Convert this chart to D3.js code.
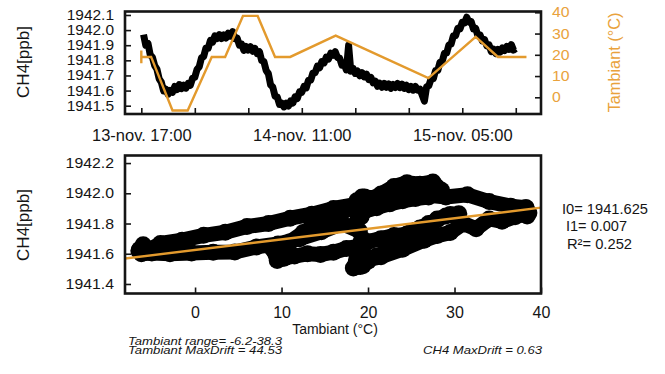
<!DOCTYPE html>
<html><head><meta charset="utf-8">
<script src="https://cdn.jsdelivr.net/npm/d3@7"></script>
<style>
html,body{margin:0;padding:0;background:#fff;}
svg{display:block;font-family:"Liberation Sans",Arial,Helvetica,sans-serif;}
</style></head><body>
<svg id="chart" width="665" height="374"></svg>
<script>
// ---------------- DATA ----------------
// hours after 13-nov 17:00
const ch4Hours = [0.25,0.5,0.75,1,1.25,1.5,1.75,2,2.25,2.5,2.75,3,3.25,3.5,3.75,4,4.25,4.5,4.75,5,5.25,5.5,5.75,6,6.25,6.5,6.75,7,7.25,7.5,7.75,8,8.25,8.5,8.75,9,9.25,9.5,9.75,10,10.25,10.5,10.75,11,11.25,11.5,11.75,12,12.25,12.5,12.75,13,13.25,13.5,13.75,14,14.25,14.5,14.75,15,15.25,15.5,15.75,16,16.25,16.5,16.75,17,17.25,17.5,17.75,18,18.25,18.5,18.75,19,19.25,19.5,19.75,20,20.25,20.5,20.75,21,21.25,21.5,21.75,22,22.25,22.5,22.75,23,23.25,23.5,23.75,24,24.25,24.5,24.75,25,25.25,25.5,25.75,26,26.25,26.5,26.75,27,27.25,27.5,27.75,28,28.25,28.5,28.75,29,29.25,29.5,29.75,30,30.25,30.5,30.75,31,31.25,31.5,31.75,32,32.25,32.5,32.75,33,33.25,33.5,33.75,34,34.25,34.5,34.75,35,35.25,35.5,35.75,36,36.25,36.5,36.75,37,37.25,37.5,37.75,38,38.25,38.5,38.75,39,39.25,39.5,39.75,40,40.25,40.5,40.75,41,41.25,41.5,41.75,42];
const ch4Values = [
1941.970,1941.900,1941.912,1941.836,1941.820,1941.765,1941.742,1941.678,1941.655,1941.598,
1941.609,1941.575,1941.601,1941.588,1941.627,1941.606,1941.640,1941.613,1941.635,1941.616,
1941.647,1941.635,1941.682,1941.688,1941.740,1941.758,1941.817,1941.826,1941.882,1941.880,
1941.932,1941.921,1941.962,1941.944,1941.970,1941.944,1941.968,1941.948,1941.979,1941.960,
1941.990,1941.943,1941.947,1941.901,1941.907,1941.866,1941.892,1941.868,1941.891,1941.860,
1941.878,1941.844,1941.857,1941.798,1941.792,1941.733,1941.712,1941.638,1941.622,1941.563,
1941.557,1941.508,1941.517,1941.492,1941.516,1941.498,1941.532,1941.518,1941.559,1941.548,
1941.592,1941.588,1941.627,1941.618,1941.669,1941.668,1941.717,1941.718,1941.762,1941.751,
1941.792,1941.783,1941.822,1941.808,1941.847,1941.834,1941.857,1941.818,1941.814,1941.768,
1941.777,1941.736,1941.900,1941.728,1941.747,1941.713,1941.729,1941.698,1941.719,1941.690,
1941.709,1941.673,1941.687,1941.651,1941.662,1941.628,1941.648,1941.622,1941.648,1941.622,
1941.644,1941.615,1941.640,1941.620,1941.647,1941.619,1941.642,1941.614,1941.635,1941.606,
1941.628,1941.603,1941.627,1941.603,1941.610,1941.570,1941.530,1941.625,1941.633,1941.677,
1941.678,1941.732,1941.733,1941.787,1941.793,1941.847,1941.848,1941.902,1941.908,1941.962,
1941.963,1942.012,1942.008,1942.052,1942.048,1942.085,1942.053,1942.057,1942.008,1942.012,
1941.963,1941.967,1941.928,1941.937,1941.896,1941.902,1941.858,1941.874,1941.845,1941.872,
1941.854,1941.882,1941.864,1941.892,1941.873,1941.904,1941.868,1941.878];

const tempHours  = [0, 0, 0, 1.1, 3.5, 5.2, 7.9, 9.4, 11.4, 13.05, 15.0, 16.7, 21.8, 32.2, 37.5, 40.0, 43.2];
const tempValues = [22, 16, 19, 19, -6.2, -6.2, 19, 19, 38.3, 38.3, 19, 19, 29, 9, 28.5, 19, 19];

const scatterT = [
 19.3,18.6,19.5,18.8,19.2,18.4,19.0,
 17.0,14.6,12.1,9.6,7.1,4.6,2.1,-0.4,-2.9,-5.0,
 -6.2,-5.9,-6.5,-6.0,-6.4,-5.8,
 -4.0,-1.5,1.0,3.5,6.0,8.5,11.0,13.5,16.0,18.5,
 19.3,18.7,19.6,
 21.5,24.0,26.5,29.0,31.5,34.0,36.5,38.3,
 38.2,38.6,38.0,38.4,38.1,
 37.0,35.5,34.0,32.5,31.0,29.5,28.0,26.5,24.0,21.5,19.3,
 18.6,19.4,18.3,19.1,18.7,19.5,18.9,19.3,18.5,
 20.0,21.0,22.0,23.0,24.0,25.0,26.0,27.0,28.0,29.0,30.5,29.5,
 28.0,27.0,26.2,25.5,24.5,23.0,21.5,20.0,19.0,17.5,16.0,14.5,13.0,11.5,10.3,9.5,9.0,
 9.5,11.0,12.5,14.0,15.5,17.0,18.5,20.0,21.5,23.0,24.5,26.0,27.5,28.5,
 27.0,25.5,24.0,22.5,21.0,19.5,
 18.8,19.4,18.6,19.2,18.9];
const scatterCH4 = [
 1941.975,1941.925,1941.905,1941.860,1941.845,1941.790,1941.750,
 1941.800,1941.745,1941.700,1941.665,1941.645,1941.612,1941.610,1941.605,1941.600,1941.605,
 1941.600,1941.650,1941.620,1941.660,1941.630,1941.610,
 1941.668,1941.690,1941.722,1941.742,1941.780,1941.800,1941.835,1941.862,1941.900,1941.925,
 1941.968,1941.950,1941.975,
 1941.965,1941.985,1941.990,1941.975,1941.990,1941.945,1941.915,1941.905,
 1941.905,1941.870,1941.885,1941.850,1941.862,
 1941.845,1941.815,1941.830,1941.765,1941.800,1941.740,1941.720,1941.690,1941.630,1941.580,1941.555,
 1941.540,1941.520,1941.505,1941.515,1941.560,1941.600,1941.650,1941.700,1941.620,
 1941.550,1941.585,1941.610,1941.660,1941.700,1941.745,1941.770,1941.800,1941.825,1941.850,1941.865,1941.860,
 1941.830,1941.790,1941.770,1941.755,1941.730,1941.720,1941.700,1941.680,1941.650,1941.635,1941.610,1941.595,1941.600,1941.585,1941.570,1941.555,1941.630,
 1941.640,1941.680,1941.740,1941.790,1941.835,1941.875,1941.915,1941.955,1941.995,1942.045,1942.070,1942.060,1942.075,1942.020,
 1941.975,1941.965,1941.950,1941.930,1941.905,1941.880,
 1941.870,1941.885,1941.900,1941.875,1941.890];

const fitIntercept = 1941.625, fitSlope = 0.007, fitR2 = 0.252;

const topCH4Ticks = [1941.5,1941.6,1941.7,1941.8,1941.9,1942.0,1942.1];
const topTempTicks = [0,10,20,30,40];
const timeTickHours = [0,6,12,18,24,30,36,42];
const timeTickLabels = ["13-nov. 17:00","","","14-nov. 11:00","","","15-nov. 05:00",""];
const botCH4Ticks = [1941.4,1941.6,1941.8,1942.0,1942.2];
const botTempTicks = [0,10,20,30,40];

// ---------------- DRAW ----------------
const ORANGE = "#E39A2D", ORANGE_TXT = "#E9A23C", INK = "#151515";
const svg = d3.select("#chart");
svg.append("rect").attr("width",665).attr("height",374).attr("fill","#fff");

const t0 = new Date(2018,10,13,17,0,0);
const toDate = h => new Date(t0.getTime() + h*3600000);

// --- top panel ---
const P1 = {l:125, r:541, t:11.5, b:114};
const xTime = d3.scaleTime().domain([toDate(-1.83), toDate(44.83)]).range([P1.l, P1.r]);
const yCH4 = d3.scaleLinear().domain([1941.445, 1942.123]).range([P1.b, P1.t]);
const yTemp = d3.scaleLinear().domain([-7.86, 40.38]).range([P1.b, P1.t]);

const lineCH4 = d3.line().x((d,i)=>xTime(toDate(ch4Hours[i]))).y(d=>yCH4(d));
svg.append("path").datum(ch4Values).attr("d",lineCH4)
  .attr("fill","none").attr("stroke","#000").attr("stroke-width",7).attr("stroke-linejoin","round");

const lineT = d3.line().x((d,i)=>xTime(toDate(tempHours[i]))).y(d=>yTemp(d));
svg.append("path").datum(tempValues).attr("d",lineT)
  .attr("fill","none").attr("stroke",ORANGE).attr("stroke-width",2.4).attr("stroke-linejoin","miter");

function styleAxis(g, size, color, perChar){
  g.select(".domain").remove();
  g.selectAll(".tick line").attr("stroke",INK).attr("stroke-width",1.6);
  const t = g.selectAll(".tick text").attr("font-size",size).attr("fill",color)
    .attr("font-family",'"Liberation Sans",Arial,sans-serif');
  if (perChar) {
    t.attr("textLength", function(){ const s=this.textContent; return s.replace(".","").length*perChar + (s.includes(".")?perChar*0.5:0); })
     .attr("lengthAdjust","spacingAndGlyphs");
  }
}
styleAxis(svg.append("g").attr("transform",`translate(${P1.l},0)`)
  .call(d3.axisLeft(yCH4).tickValues(topCH4Ticks).tickFormat(d3.format(".1f")).tickSize(-6).tickPadding(11)), 14, INK, 8.6);
styleAxis(svg.append("g").attr("transform",`translate(${P1.r},0)`)
  .call(d3.axisRight(yTemp).tickValues(topTempTicks).tickSize(-6).tickPadding(11)), 14, ORANGE_TXT, 8.8);
styleAxis(svg.append("g").attr("transform",`translate(0,${P1.b})`)
  .call(d3.axisBottom(xTime).tickValues(timeTickHours.map(toDate)).tickFormat((d,i)=>timeTickLabels[i]).tickSize(-6).tickPadding(15.5)), 16.5, INK);

svg.append("rect").attr("x",P1.l).attr("y",P1.t).attr("width",P1.r-P1.l).attr("height",P1.b-P1.t)
  .attr("fill","none").attr("stroke",INK).attr("stroke-width",2.6);

svg.append("text").attr("transform","translate(29,62) rotate(-90)").attr("text-anchor","middle")
  .attr("font-size",17).attr("fill",INK).text("CH4[ppb]");
svg.append("text").attr("transform","translate(620,62.5) rotate(-90)").attr("text-anchor","middle")
  .attr("font-size",16.3).attr("fill",ORANGE_TXT).text("Tambiant (°C)");

// --- bottom panel ---
const P2 = {l:125, r:541, t:155.5, b:293.5};
const xS = d3.scaleLinear().domain([-8.1, 40]).range([P2.l, P2.r]);
const yS = d3.scaleLinear().domain([1941.337, 1942.25]).range([P2.b, P2.t]);

svg.append("clipPath").attr("id","clip2").append("rect")
  .attr("x",P2.l).attr("y",P2.t).attr("width",P2.r-P2.l).attr("height",P2.b-P2.t);
const gS = svg.append("g").attr("clip-path","url(#clip2)");
const scatterLine = d3.line().x((d,i)=>xS(scatterT[i])).y(d=>yS(d));
gS.append("path").datum(scatterCH4).attr("d",scatterLine)
  .attr("fill","none").attr("stroke","#000").attr("stroke-width",15)
  .attr("stroke-linejoin","round").attr("stroke-linecap","round");
gS.selectAll("circle").data(scatterCH4).join("circle")
  .attr("cx",(d,i)=>xS(scatterT[i])).attr("cy",d=>yS(d)).attr("r",8.5).attr("fill","#000");
gS.append("line")
  .attr("x1",xS(-8.1)).attr("y1",yS(fitIntercept + fitSlope*-8.1))
  .attr("x2",xS(40)).attr("y2",yS(fitIntercept + fitSlope*40))
  .attr("stroke",ORANGE).attr("stroke-width",2.4);

styleAxis(svg.append("g").attr("transform",`translate(${P2.l},0)`)
  .call(d3.axisLeft(yS).tickValues(botCH4Ticks).tickFormat(d3.format(".1f")).tickSize(-6).tickPadding(11)), 14.5, INK, 8.8);
styleAxis(svg.append("g").attr("transform",`translate(0,${P2.b})`)
  .call(d3.axisBottom(xS).tickValues(botTempTicks).tickSize(-6).tickPadding(13)), 16, INK);

svg.append("rect").attr("x",P2.l).attr("y",P2.t).attr("width",P2.r-P2.l).attr("height",P2.b-P2.t)
  .attr("fill","none").attr("stroke",INK).attr("stroke-width",2.6);

svg.append("text").attr("transform","translate(29,225) rotate(-90)").attr("text-anchor","middle")
  .attr("font-size",17).attr("fill",INK).text("CH4[ppb]");
svg.append("text").attr("x",335).attr("y",334).attr("text-anchor","middle")
  .attr("font-size",14).attr("fill",INK).text("Tambiant (°C)");

// fit annotation
const ann = [["I0= " + fitIntercept.toFixed(3), 562, 213.5, 86],
             ["I1= " + fitSlope.toFixed(3), 566, 231, 61],
             ["R²= " + fitR2.toFixed(3), 567, 248.5, 65]];
svg.selectAll("text.ann").data(ann).join("text").attr("class","ann")
  .attr("x",d=>d[1]).attr("y",d=>d[2]).attr("font-size",15).attr("fill",INK)
  .attr("textLength",d=>d[3]).attr("lengthAdjust","spacingAndGlyphs").text(d=>d[0]);

// notes
const notes = [["Tambiant range= -6.2-38.3", 128, 345, 154],
               ["Tambiant MaxDrift = 44.53", 128, 354, 154],
               ["CH4 MaxDrift = 0.63", 423, 354, 119]];
svg.selectAll("text.note").data(notes).join("text").attr("class","note")
  .attr("x",d=>d[1]).attr("y",d=>d[2]).attr("font-size",11.5).attr("font-style","italic").attr("fill",INK)
  .attr("textLength",d=>d[3]).attr("lengthAdjust","spacingAndGlyphs").text(d=>d[0]);
</script>
</body></html>
